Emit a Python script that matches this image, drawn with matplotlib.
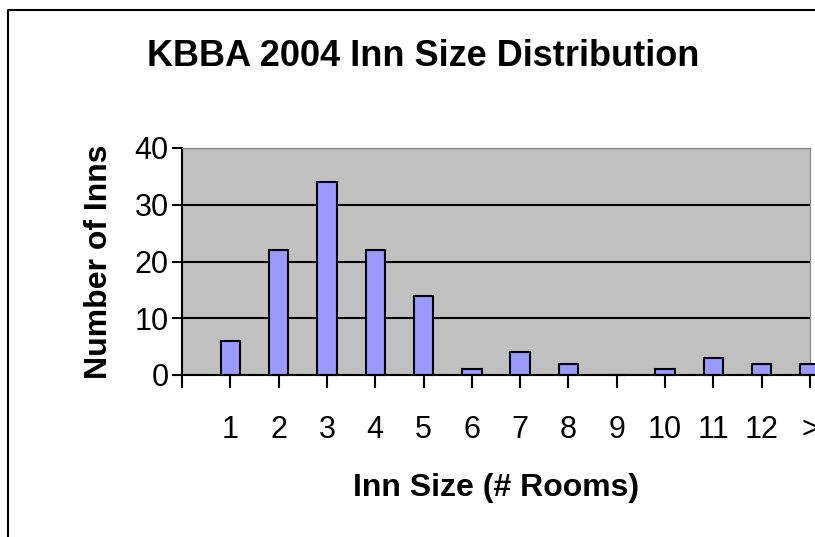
import matplotlib.pyplot as plt
import matplotlib.lines as mlines

# 部屋数ごとの宿の数
sizes = ['', '1', '2', '3', '4', '5', '6', '7', '8', '9', '10', '11', '12', '>']
counts = [0, 6, 22, 34, 22, 14, 1, 4, 2, 0, 1, 3, 2, 2]
y_ticks = [0, 10, 20, 30, 40]

plt.rcParams['font.family'] = ['Liberation Sans', 'DejaVu Sans']

fig = plt.figure(figsize=(8.15, 5.37), dpi=100)
ax = fig.add_axes([182 / 815, (537 - 375) / 537, (810 - 182) / 815, (375 - 148) / 537])

pos = list(range(len(sizes)))
ax.set_facecolor('#C0C0C0')
ax.bar(pos[1:], counts[1:], width=0.4, color='#9999FF', edgecolor='black',
       linewidth=1.5, zorder=3, clip_on=False)

ax.set_xlim(0, len(sizes) - 1)
ax.set_ylim(0, 40)
ax.set_yticks(y_ticks)
ax.set_xticks(pos)
ax.set_xticklabels(sizes)
ax.tick_params(axis='y', direction='out', length=7.5, width=1.5, labelsize=22, pad=2)
ax.tick_params(axis='x', direction='out', length=9, width=1.5, labelsize=22, pad=20)

ax.grid(axis='y', color='black', linewidth=1.5, zorder=1)
ax.spines['left'].set_linewidth(1.5)
ax.spines['bottom'].set_linewidth(1.5)
ax.spines['bottom'].set_zorder(4)
ax.spines['top'].set_color('#808080')
ax.spines['right'].set_color('#808080')

ax.set_ylabel('Number of Inns', fontsize=23, fontweight='bold', labelpad=15)
ax.set_xlabel('Inn Size (# Rooms)', fontsize=23, fontweight='bold', labelpad=20)
fig.text(0.519, 0.894, 'KBBA 2004 Inn Size Distribution', fontsize=26,
         fontweight='bold', ha='center', va='center')

# 外枠
fig.add_artist(mlines.Line2D([8 / 815, 8 / 815, 1.0], [0, 1 - 10 / 537, 1 - 10 / 537],
                             color='black', linewidth=1.5, transform=fig.transFigure))

fig.savefig('out.png', dpi=100)
